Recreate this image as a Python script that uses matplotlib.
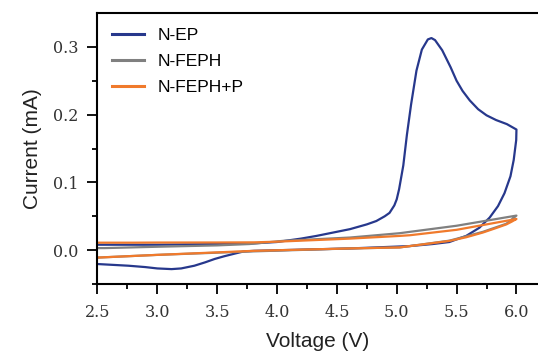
import numpy as np
import matplotlib.pyplot as plt

# --- N-EP (blue) : anodic sweep then cathodic sweep ---
ep_v_fwd = [2.5, 3.0, 3.5, 3.8, 4.0, 4.2, 4.33, 4.61, 4.75, 4.83, 4.9, 4.94, 4.98, 5.0,
            5.02, 5.055, 5.085, 5.12, 5.165, 5.21, 5.26, 5.29, 5.32, 5.38, 5.45, 5.5,
            5.55, 5.61, 5.68, 5.75, 5.83, 5.92, 6.0]
ep_i_fwd = [0.008, 0.008, 0.009, 0.010, 0.012, 0.017, 0.021, 0.031, 0.038, 0.043, 0.050,
            0.055, 0.066, 0.075, 0.090, 0.125, 0.170, 0.215, 0.265, 0.296, 0.311, 0.313,
            0.310, 0.295, 0.270, 0.250, 0.235, 0.221, 0.208, 0.199, 0.192, 0.186, 0.178]
ep_v_rev = [6.0, 5.998, 5.977, 5.95, 5.90, 5.846, 5.776, 5.69, 5.58, 5.44, 5.3, 5.11,
            4.61, 3.81, 3.72, 3.65, 3.56, 3.48, 3.4, 3.31, 3.2, 3.12, 3.0, 2.9, 2.76, 2.5]
ep_i_rev = [0.178, 0.1625, 0.133, 0.109, 0.084, 0.065, 0.048, 0.033, 0.021, 0.012, 0.009,
            0.006, 0.0025, -0.001, -0.002, -0.005, -0.009, -0.013, -0.018, -0.023, -0.027,
            -0.028, -0.027, -0.025, -0.023, -0.0205]

# --- N-FEPH (gray) ---
feph_v_fwd = [2.5, 2.56, 3.0, 3.5, 3.77, 4.05, 4.61, 5.025, 5.11, 5.5, 6.0]
feph_i_fwd = [0.003, 0.003, 0.005, 0.007, 0.009, 0.0137, 0.0186, 0.025, 0.027, 0.036, 0.051]
feph_v_rev = [6.0, 5.916, 5.72, 5.44, 5.11, 5.025, 4.61, 3.77, 3.0, 2.5]
feph_i_rev = [0.051, 0.039, 0.027, 0.014, 0.006, 0.004, 0.0025, -0.002, -0.007, -0.011]

# --- N-FEPH+P (orange) ---
fephp_v_fwd = [2.5, 2.8, 3.0, 3.5, 3.81, 4.0, 4.61, 5.025, 5.11, 5.5, 6.0]
fephp_i_fwd = [0.011, 0.011, 0.0112, 0.0113, 0.0115, 0.0125, 0.017, 0.021, 0.022, 0.030, 0.046]
fephp_v_rev = [6.0, 5.96, 5.916, 5.82, 5.72, 5.58, 5.44, 5.11, 5.025, 4.61, 3.81, 3.0, 2.5]
fephp_i_rev = [0.046, 0.042, 0.038, 0.032, 0.026, 0.019, 0.0136, 0.006, 0.004, 0.0025,
               -0.001, -0.007, -0.011]

blue = "#27388c"
gray = "#808080"
orange = "#f07a2c"

fig = plt.figure(figsize=(5.38, 3.56), dpi=100)
ax = fig.add_axes([0.181, 0.2022, 0.819, 0.7613])

ax.plot(ep_v_fwd + ep_v_rev, ep_i_fwd + ep_i_rev, color=blue, lw=1.6, label="N-EP")
ax.plot(feph_v_fwd + feph_v_rev, feph_i_fwd + feph_i_rev, color=gray, lw=1.6, label="N-FEPH")
ax.plot(fephp_v_fwd + fephp_v_rev, fephp_i_fwd + fephp_i_rev, color=orange, lw=1.6,
        label="N-FEPH+P")

ax.set_xlim(2.5, 6.18)
ax.set_ylim(-0.05, 0.35)
ax.set_xticks(np.arange(2.5, 6.01, 0.5))
ax.set_xticks(np.arange(2.75, 6.1, 0.5), minor=True)
ax.set_yticks([0.0, 0.1, 0.2, 0.3])
ax.set_yticks([-0.05, 0.05, 0.15, 0.25], minor=True)
ax.xaxis.set_major_formatter(plt.FormatStrFormatter("%.1f"))
ax.yaxis.set_major_formatter(plt.FormatStrFormatter("%.1f"))

ax.spines["right"].set_visible(False)
for s in ["left", "top", "bottom"]:
    ax.spines[s].set_linewidth(1.5)
ax.tick_params(which="major", direction="out", length=7.5, width=1.3, pad=7)
ax.tick_params(which="minor", direction="out", length=3.8, width=1.3)
ax.tick_params(axis="y", which="major", pad=6)
for lab in ax.get_xticklabels() + ax.get_yticklabels():
    lab.set_fontfamily("DejaVu Serif")
    lab.set_fontsize(11.5)
    lab.set_color("#333333")

ax.set_xlabel("Voltage (V)", fontsize=15, family="Liberation Sans", color="#222222", labelpad=8)
ax.set_ylabel("Current (mA)", fontsize=15, family="Liberation Sans", color="#222222", labelpad=8)

leg = ax.legend(loc="upper left", frameon=False, prop={"family": "Liberation Sans", "size": 12.5},
                handlelength=1.85, handletextpad=0.75, labelspacing=0.62,
                borderaxespad=0.45, borderpad=0.4)
for h in leg.get_lines():
    h.set_linewidth(2.2)

fig.savefig("out.png", dpi=100)
